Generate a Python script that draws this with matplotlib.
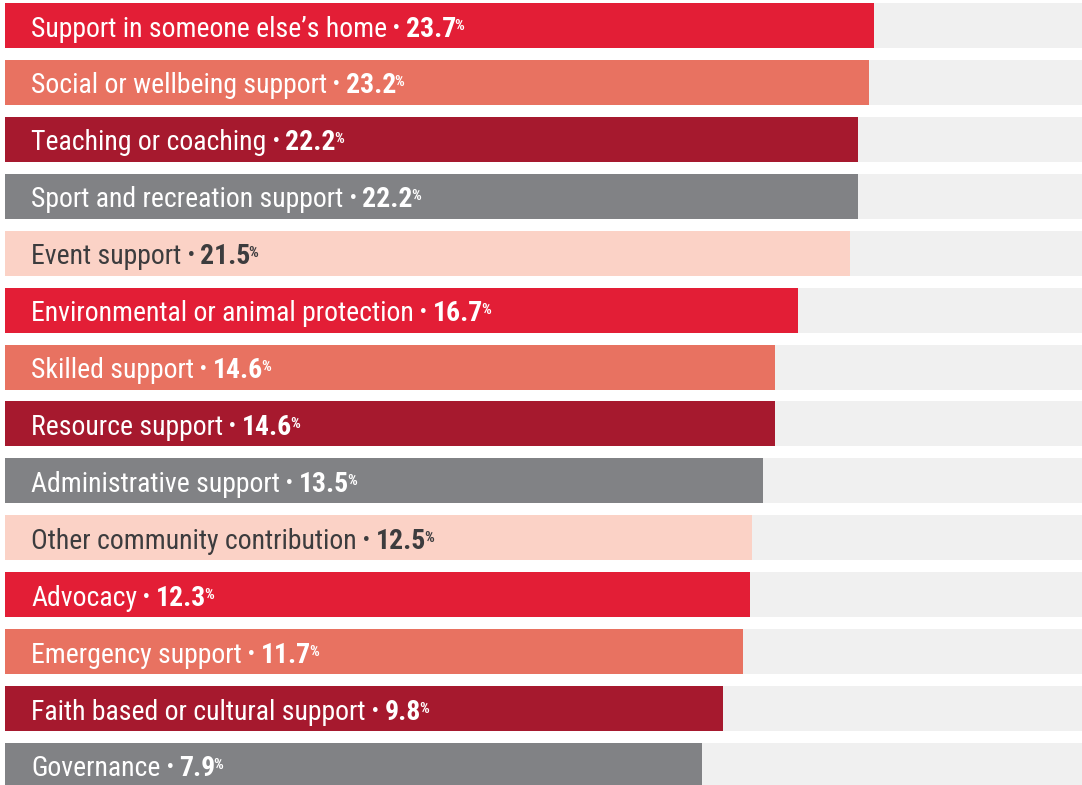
import numpy as np
import matplotlib
matplotlib.use("Agg")
import matplotlib.pyplot as plt

# Share of volunteers by type of activity
categories = [
    "Support in someone else\u2019s home",
    "Social or wellbeing support",
    "Teaching or coaching",
    "Sport and recreation support",
    "Event support",
    "Environmental or animal protection",
    "Skilled support",
    "Resource support",
    "Administrative support",
    "Other community contribution",
    "Advocacy",
    "Emergency support",
    "Faith based or cultural support",
    "Governance",
]
values = [23.7, 23.2, 22.2, 22.2, 21.5, 16.7, 14.6, 14.6, 13.5, 12.5, 12.3, 11.7, 9.8, 7.9]

palette = ["#e31e36", "#e87261", "#a6192e", "#818285", "#fbd2c6"]
text_colors = ["white", "white", "white", "white", "#3c3c3e"]

# bars run from a fixed base to the value, on a grey track
BASE = -56.1
TRACK_END = 42.8
FAMILY = ["Roboto Condensed", "DejaVu Sans Condensed", "Liberation Sans Narrow", "Roboto", "DejaVu Sans"]
FS = 20

fig = plt.figure(figsize=(10.82, 7.85), dpi=100)
ax = fig.add_axes([0, 0, 1, 1])

y = np.arange(len(categories))
colors = [palette[i % len(palette)] for i in y]
tcolors = [text_colors[i % len(text_colors)] for i in y]

ax.barh(y, TRACK_END - BASE, left=BASE, height=0.79, color="#f0f0f0", zorder=1)
ax.barh(y, np.array(values) - BASE, left=BASE, height=0.79, color=colors, zorder=2)

ax.set_xlim(-56.59, 42.81)
ax.set_ylim(13.343, -0.448)
ax.axis("off")

for i, (cat, val) in enumerate(zip(categories, values)):
    tc = tcolors[i]
    t1 = ax.annotate(cat, xy=(BASE, i), xytext=(26, -11), textcoords="offset pixels",
                     ha="left", va="baseline", fontsize=FS, color=tc, family=FAMILY,
                     fontstretch="condensed", zorder=3)
    t2 = ax.annotate("\u00b7", xy=(1, 0), xycoords=t1, xytext=(5, 0), textcoords="offset pixels",
                     ha="left", va="bottom", fontsize=FS + 2, fontweight="bold", color=tc,
                     family=FAMILY, fontstretch="condensed", zorder=3)
    t3 = ax.annotate(f"{val:.1f}", xy=(1, 0), xycoords=t2, xytext=(5, 0), textcoords="offset pixels",
                     ha="left", va="bottom", fontsize=FS, fontweight="bold", color=tc,
                     family=FAMILY, fontstretch="condensed", zorder=3)
    ax.annotate("%", xy=(1, 1), xycoords=t3, xytext=(-2, -3), textcoords="offset pixels",
                ha="left", va="top", fontsize=11, fontweight="bold", color=tc,
                family=FAMILY, fontstretch="condensed", zorder=3)

fig.savefig("out.png", dpi=100)
